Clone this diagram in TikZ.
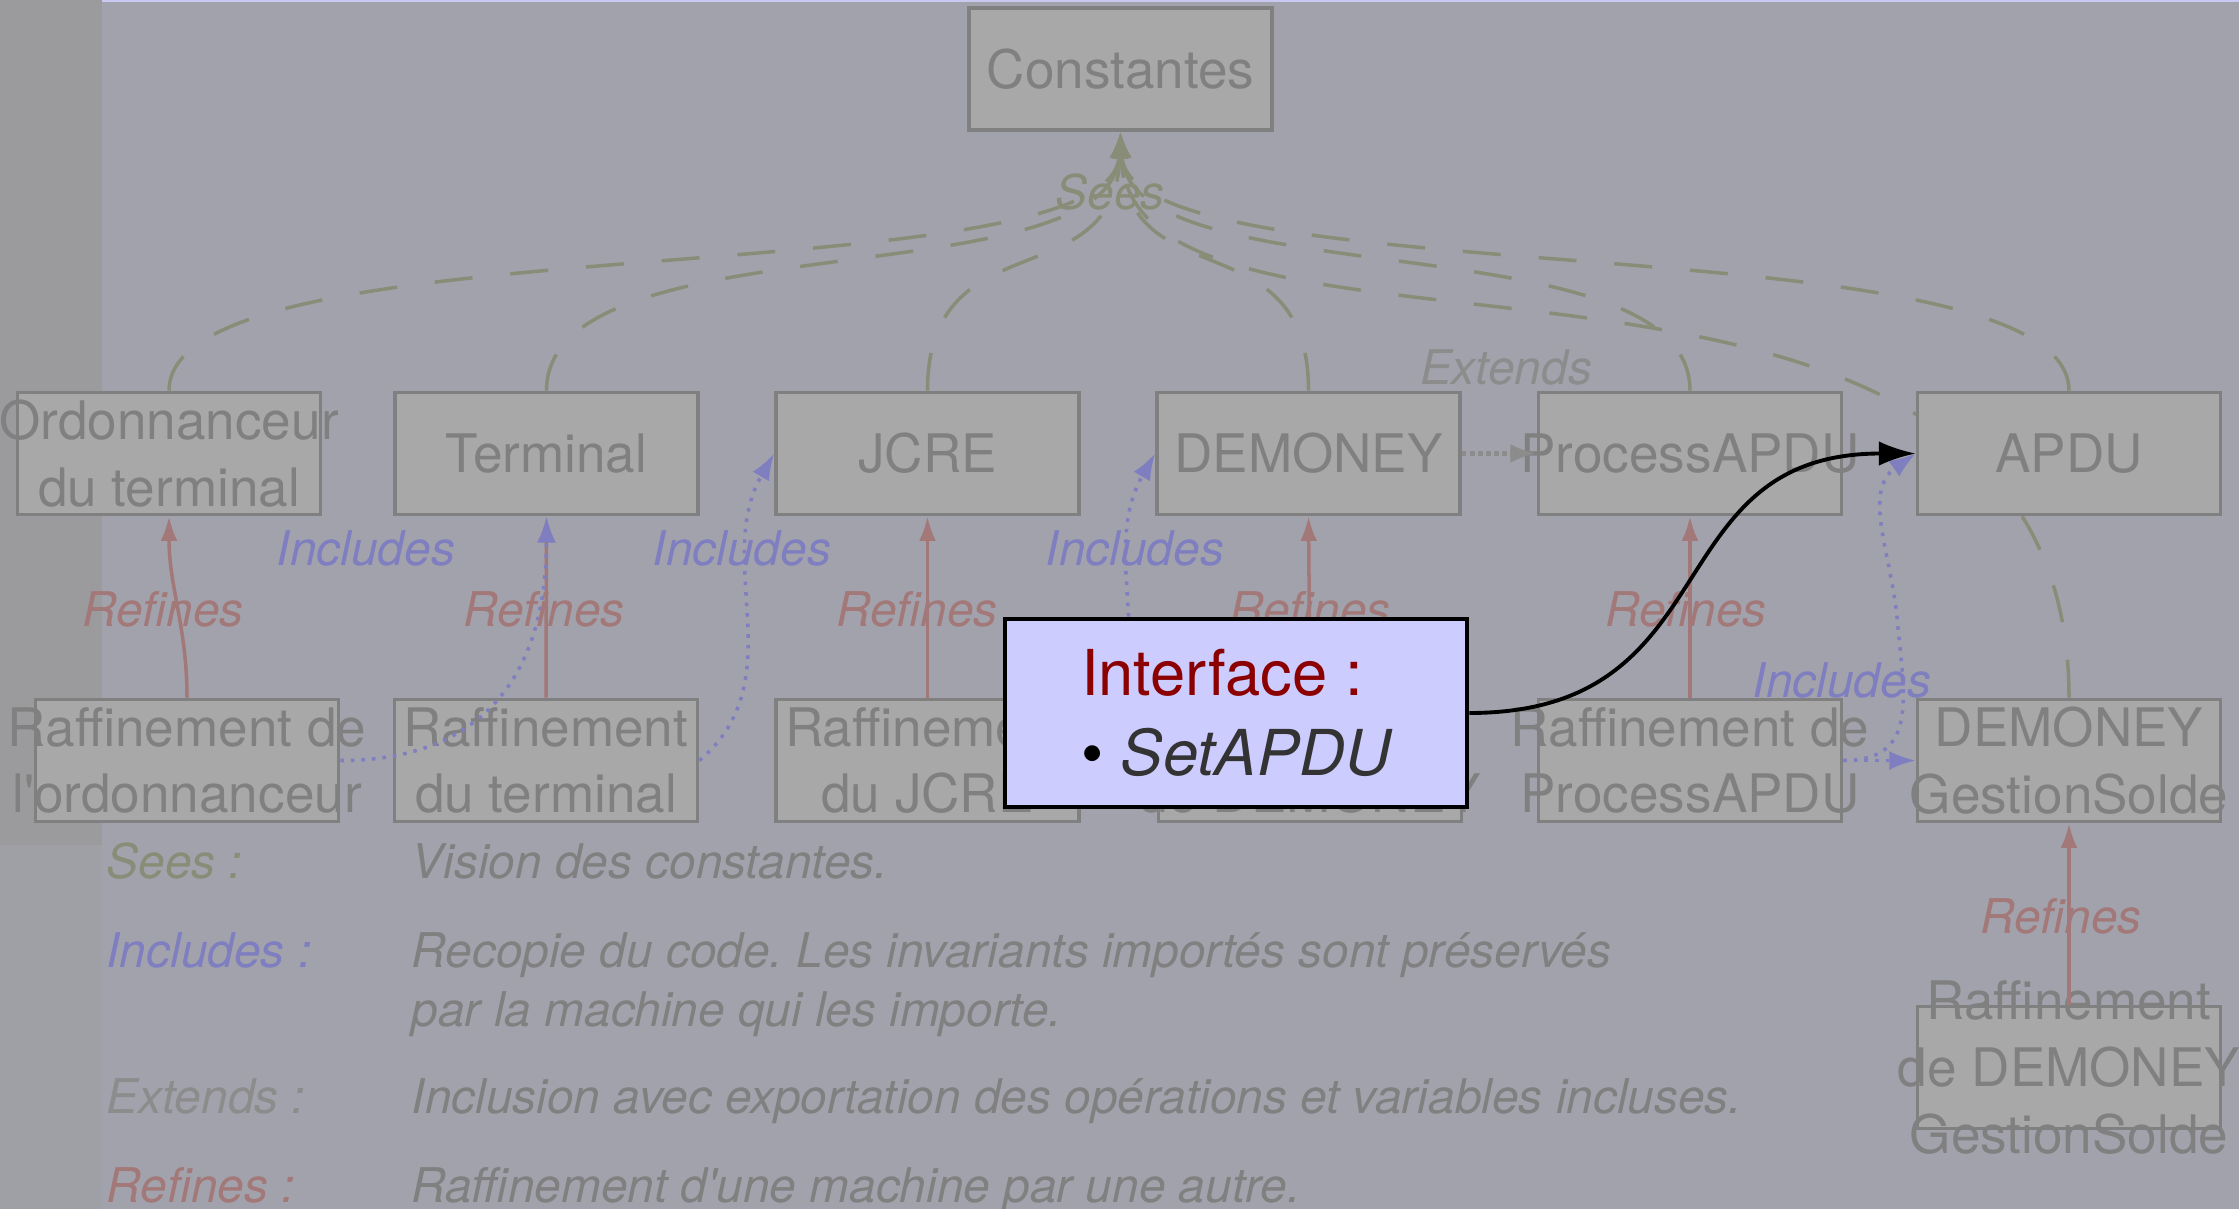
\documentclass[tikz,border=0pt]{standalone}
\usepackage{fontspec}
\setmainfont{TeX Gyre Heros}
\usetikzlibrary{arrows.meta}
\frenchspacing
\definecolor{slidebg}{RGB}{162,162,172}
\definecolor{stripbg}{RGB}{155,155,157}
\definecolor{stripbgb}{RGB}{159,159,166}
\definecolor{topline}{RGB}{200,200,240}
\definecolor{boxfill}{RGB}{168,168,168}
\definecolor{boxline}{RGB}{128,128,128}
\definecolor{seescol}{RGB}{137,141,120}
\definecolor{inclcol}{RGB}{126,126,192}
\definecolor{refcol}{RGB}{162,120,120}
\definecolor{extcol}{RGB}{140,140,140}
\definecolor{ifacefill}{RGB}{204,204,255}
\definecolor{ifacered}{RGB}{139,0,0}
\definecolor{ifacetext}{RGB}{51,51,51}
\pgfdeclarelayer{bg}
\pgfdeclarelayer{back}
\pgfsetlayers{bg,back,main}
\begin{document}
\begin{tikzpicture}[x=0.01cm,y=0.01cm]
  \tikzstyle{machine}=[draw=boxline,fill=boxfill,line width=1pt,text=boxline,
    minimum width=3.03cm,minimum height=1.22cm,inner sep=-1cm,align=center,
    font=\fontsize{15.1}{19}\selectfont]
  \tikzstyle{lbl}=[inner sep=0pt,font=\fontsize{13.6}{17}\selectfont\itshape]
  \tikzstyle{key}=[lbl,anchor=base west]
  \tikzstyle{sees}=[seescol,line width=1pt,dash pattern=on 10.8pt off 10.8pt,-{Latex[length=7.5pt,width=5.4pt]}]
  \tikzstyle{includes}=[inclcol,line width=1pt,dotted,-{Latex[length=7.5pt,width=5.4pt]}]
  \tikzstyle{refines}=[refcol,line width=1pt,-{Latex[length=7pt,width=4.8pt]}]
  \tikzstyle{extends}=[extcol,line width=1.3pt,densely dotted,-{Latex[length=7.5pt,width=5.4pt]}]
  \def\rowa{-453.5} % machines
  \def\rowb{-760.5} % refinements
  \def\rowc{-1067.5} % last refinement
  \useasboundingbox (0,0) rectangle (2239,-1209);
  \begin{pgfonlayer}{bg}
    \fill[slidebg] (0,0) rectangle (2239,-1209);
    \fill[stripbg] (0,0) rectangle (102,-845);
    \fill[stripbgb] (0,-845) rectangle (102,-1209);
    \fill[topline] (102,0) rectangle (2239,-2);
  \end{pgfonlayer}
  % machines
  \node[machine] (const) at (1120.5,-69) {Constantes};
  \node[machine] (ordo) at (169,\rowa) {Ordonnanceur\\du terminal};
  \node[machine] (term) at (546.5,\rowa) {Terminal};
  \node[machine] (jcre) at (927.5,\rowa) {JCRE};
  \node[machine] (demo) at (1308.5,\rowa) {DEMONEY};
  \node[machine] (proc) at (1690,\rowa) {ProcessAPDU};
  \node[machine] (apdu) at (2069,\rowa) {APDU};
  % refinements
  \node[machine] (rordo) at (187,\rowb) {Raffinement de\\l\textquotesingle ordonnanceur};
  \node[machine] (rterm) at (546,\rowb) {Raffinement\\du terminal};
  \node[machine] (rjcre) at (927.5,\rowb) {Raffinement\\du JCRE};
  \node[machine] (rdemo) at (1310,\rowb) {Raffinement\\de DEMONEY};
  \node[machine] (rproc) at (1690,\rowb) {Raffinement de\\ProcessAPDU};
  \node[machine] (gest) at (2069,\rowb) {DEMONEY\\GestionSolde};
  \node[machine] (rgest) at (2069,\rowc) {Raffinement\\de DEMONEY\\GestionSolde};
  \begin{pgfonlayer}{back}
    \foreach \m/\dx in {ordo/-10,term/-10,jcre/-5,demo/5,proc/10,apdu/10}
      \draw[sees] (\m.north) .. controls +(0,173) and +(\dx,-168) .. (const.south);
    \draw[sees] (gest.north) .. controls +(0,550) and +(10,-288) .. (const.south);
  \end{pgfonlayer}
  \draw[refines] (rordo.north) to[out=90,in=-90] (ordo.south);
  \foreach \a/\b in {rterm/term,rjcre/jcre,rdemo/demo,rproc/proc,rgest/gest}
    \draw[refines] (\a.north) -- (\b.south);
  \draw[includes] (rordo.east) to[out=0,in=-90,looseness=1.2] (term.south);
  \draw[includes] (rterm.east) to[out=40,in=-120] (jcre.west);
  \draw[includes] (rjcre.east) to[out=40,in=-120] (demo.west);
  \draw[includes] (rproc.east) -- (gest.west);
  \draw[includes] (rproc.east) to[out=0,in=-85,looseness=1.3] ++(54,140)
                  to[out=95,in=-145] (apdu.west);
  \draw[extends] (demo.east) -- (proc.west);
  % labels
  \node[lbl,seescol] (lsees) at (1110,-192) {Sees};
  \node[lbl,extcol] (lext) at (1506,-367) {Extends};
  \foreach \x/\y [count=\i] in {366/548,742/548,1135/548,1842/680}
    \node[lbl,inclcol] (linc\i) at (\x,-\y) {Includes};
  \foreach \x/\y [count=\i] in {163/609,544/609,917/609,1310/609,1686/609,2061/916}
    \node[lbl,refcol] (lref\i) at (\x,-\y) {Refines};
  % legend
  \node[key,seescol] (ksees) at (106,-878) {Sees :};
  \node[key,boxline] (dsees) at (411,-878) {Vision des constantes.};
  \node[key,inclcol] (kincl) at (106,-967) {Includes :};
  \node[key,boxline] (dincl) at (411,-967) {Recopie du code. Les invariants importés sont préservés};
  \node[key,boxline] (dinclb) at (411,-1026) {par la machine qui les importe.};
  \node[key,extcol] (kext) at (106,-1113) {Extends :};
  \node[key,boxline] (dext) at (411,-1113) {Inclusion avec exportation des opérations et variables incluses.};
  \node[key,refcol] (kref) at (106,-1202) {Refines :};
  \node[key,boxline] (dref) at (411,-1202) {Raffinement d\textquotesingle une machine par une autre.};
  % interface
  \node[draw=black,fill=ifacefill,line width=1.2pt,minimum width=4.62cm,minimum height=1.88cm,
        align=left,font=\fontsize{18}{22.8}\selectfont] (iface) at (1236,-713)
        {\textcolor{ifacered}{Interface :}\\\textbullet\ \textcolor{ifacetext}{\itshape SetAPDU}};
  \draw[line width=1.1pt,-{Latex[length=10.5pt,width=7pt]}] (iface.east) to[out=0,in=180,looseness=1.3] (apdu.west);
\end{tikzpicture}
\end{document}
